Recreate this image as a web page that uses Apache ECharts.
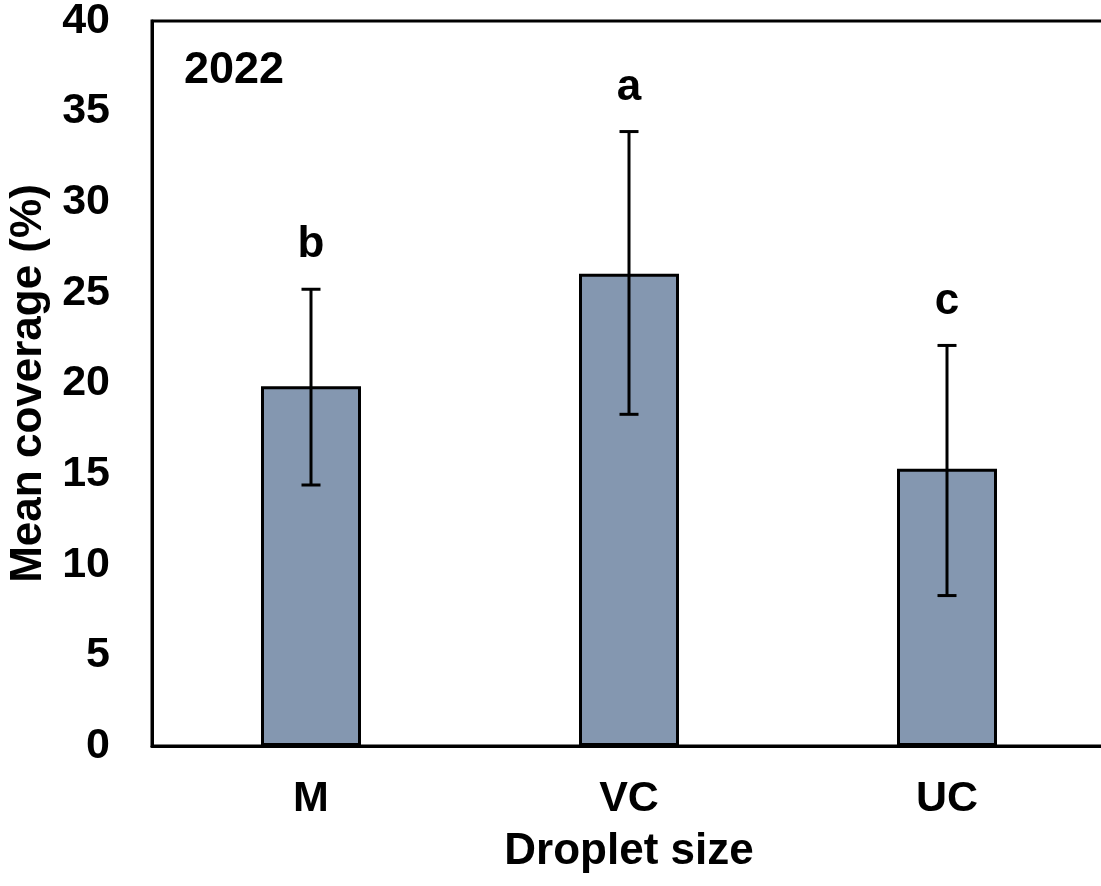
<!DOCTYPE html>
<html>
<head>
<meta charset="utf-8">
<script src="https://cdn.jsdelivr.net/npm/echarts@6/dist/echarts.min.js"></script>
<style>
  html, body { margin: 0; padding: 0; background: #fff; }
  #chart { width: 1101px; height: 886px; }
</style>
</head>
<body>
<div id="chart"></div>
<script>
const CATEGORIES = ['M', 'VC', 'UC'];
const MEAN_COVERAGE = [19.85, 26.05, 15.3];
const ERR_LOW = [14.4, 18.3, 8.3];
const ERR_HIGH = [25.2, 33.9, 22.1];
const LETTERS = ['b', 'a', 'c'];
const YEAR_LABEL = '2022';

const FONT = "'Liberation Sans', Arial, sans-serif";

let chart = echarts.init(document.getElementById('chart'), null, { renderer: 'canvas' });

chart.setOption({
  animation: false,
  backgroundColor: '#fff',
  grid: {
    left: 152,
    top: 21,
    bottom: 140,
    width: 954,
    containLabel: false,
    outerBoundsMode: 'none',
    show: true,
    borderColor: '#000',
    borderWidth: 3
  },
  xAxis: {
    type: 'category',
    data: CATEGORIES,
    axisLine: { lineStyle: { color: '#000', width: 3 } },
    axisTick: { show: false },
    axisLabel: {
      color: '#000',
      fontFamily: FONT,
      fontWeight: 'bold',
      fontSize: 43,
      margin: 32
    },
    name: 'Droplet size',
    nameLocation: 'middle',
    nameGap: 84,
    nameTextStyle: {
      color: '#000',
      fontFamily: FONT,
      fontWeight: 'bold',
      fontSize: 44
    }
  },
  yAxis: {
    type: 'value',
    min: 0,
    max: 40,
    interval: 5,
    axisLine: { show: true, lineStyle: { color: '#000', width: 3 } },
    axisTick: { show: false },
    splitLine: { show: false },
    axisLabel: {
      color: '#000',
      fontFamily: FONT,
      fontWeight: 'bold',
      fontSize: 43,
      margin: 42
    },
    name: 'Mean coverage (%)',
    nameLocation: 'middle',
    nameGap: 101,
    nameTextStyle: {
      color: '#000',
      fontFamily: FONT,
      fontWeight: 'bold',
      fontSize: 44
    }
  },
  graphic: [
    {
      type: 'text',
      style: {
        text: YEAR_LABEL,
        x: 184,
        y: 71,
        verticalAlign: 'middle',
        fill: '#000',
        font: 'bold 45px ' + FONT
      }
    }
  ],
  series: [
    {
      type: 'bar',
      data: MEAN_COVERAGE,
      barWidth: 100,
      itemStyle: {
        color: '#8497B0',
        borderColor: '#000',
        borderWidth: 3
      }
    },
    {
      type: 'custom',
      data: CATEGORIES.map((c, i) => [i, ERR_LOW[i], ERR_HIGH[i]]),
      renderItem: function (params, api) {
        const i = api.value(0);
        const lo = api.coord([i, api.value(1)]);
        const hi = api.coord([i, api.value(2)]);
        const cap = 9.5;
        const st = { stroke: '#000', lineWidth: 3 };
        return {
          type: 'group',
          children: [
            { type: 'line', shape: { x1: hi[0], y1: hi[1], x2: lo[0], y2: lo[1] }, style: st },
            { type: 'line', shape: { x1: hi[0] - cap, y1: hi[1], x2: hi[0] + cap, y2: hi[1] }, style: st },
            { type: 'line', shape: { x1: lo[0] - cap, y1: lo[1], x2: lo[0] + cap, y2: lo[1] }, style: st },
            {
              type: 'text',
              style: {
                text: LETTERS[i],
                x: hi[0],
                y: hi[1] - 44,
                align: 'center',
                verticalAlign: 'middle',
                fill: '#000',
                font: 'bold 44px ' + FONT
              }
            }
          ]
        };
      },
      z: 5
    }
  ]
});
</script>
</body>
</html>
